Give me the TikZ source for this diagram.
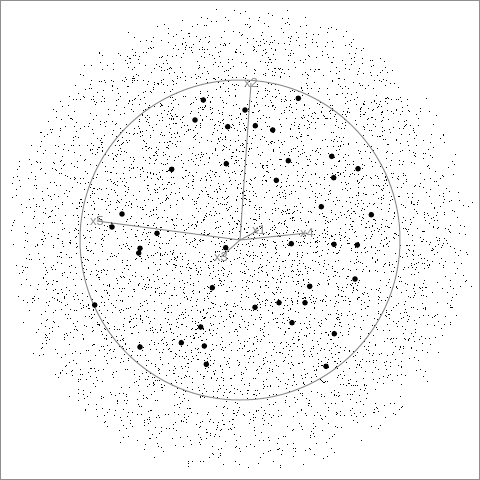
\documentclass[tikz,border=0pt]{standalone}
\usepackage{fontspec}
\newfontfamily\labfont{Liberation Sans}
\definecolor{axgray}{HTML}{8E8E8E}
\tikzset{
  axis/.style={draw=axgray, line width=1pt},
  axlabel/.style={text=axgray, font=\labfont\fontsize{13}{15}\selectfont, inner sep=0pt},
  bigdot/.style={fill=black, draw=none},
}
\begin{document}
\begin{tikzpicture}[x=1pt,y=-1pt]
\useasboundingbox (0,0) rectangle (480,480);
\fill[white] (0,0) rectangle (480,480);
% small dots: projection of a 5-d sphere sample
\pgfmathsetseed{4242}
\foreach \i in {1,...,5600}{
  \pgfmathsetmacro\myu{rnd+0.00001}
  \pgfmathsetmacro\myt{360*rnd}
  \pgfmathsetmacro\myr{236*sqrt(1-\myu^(0.66667))}
  \fill ({240+\myr*cos(\myt)-0.5},{240+\myr*sin(\myt)-0.5}) rectangle ++(1,1);
}
\coordinate (o) at (240,240);
\draw[axis] (o) circle (160);
\node[axlabel] (x2) at (251,83) {x2};
\node[axlabel] (x1) at (259,230) {x1};
\node[axlabel] (x4) at (307,233) {x4};
\node[axlabel] (x3) at (221,257) {x3};
\node[axlabel] (x5) at (97,221) {x5};
\draw[axis] (o) -- (x2.center);
\draw[axis] (o) -- (x1.center);
\draw[axis] (o) -- (x4.center);
\draw[axis] (o) -- (x3.center);
\draw[axis] (o) -- (x5.center);
\foreach \p in {(203.3,100),(195,120),(227.7,126.7),(226.3,163.7),(171.7,169.3),(122,214),(112,227),(157,233.3),
(298.3,98.3),(245,110),(255.3,125.7),(272.7,130),(288.3,160.7),(331.7,156.3),(358,168.7),(333.7,177.7),(276.3,180.3),(321.3,206.7),(371.3,214.7),
(140,248.3),(138.7,253),(225.7,247.7),(212.3,287.7),(94.7,305),(200.7,327),(181.3,342.7),(204.3,346),(140,347),(206.3,364.3),
(291.3,243.7),(334,244.3),(357.3,245),(355,279),(309.7,286.3),(279,302.7),(305,302.7),(255,307.3),(292,322.7),(334.3,333.7),(326,366.3)}
  \fill[bigdot] \p circle (2.8);
\draw[draw=axgray, line width=1.5pt] (0,0) rectangle (480,480);
\end{tikzpicture}
\end{document}
